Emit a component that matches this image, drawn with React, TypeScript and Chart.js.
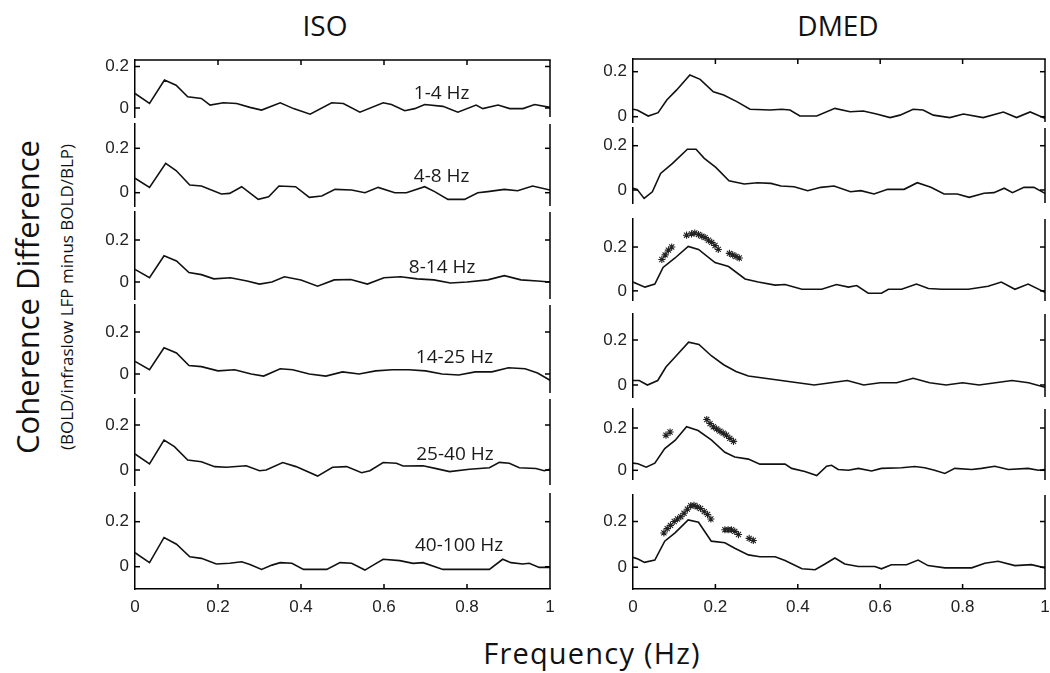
import React, { useEffect, useRef } from "react";
import { Chart, registerables } from "chart.js";

Chart.register(...registerables);

// ---------------- DATA ----------------
const xTickValues = [0, 0.2, 0.4, 0.6, 0.8, 1];
const yTickValues = [0, 0.2];
const columnTitles = ["ISO", "DMED"];
const bandLabels = ["1-4 Hz", "4-8 Hz", "8-14 Hz", "14-25 Hz", "25-40 Hz", "40-100 Hz"];
const bandLabelX = [0.739, 0.739, 0.74, 0.77, 0.771, 0.781];
const bandLabelY = [0.071, 0.072, 0.067, 0.076, 0.067, 0.096];

// ISO column
const isoFreq1 = [0, 0.035, 0.071, 0.099, 0.127, 0.16, 0.181, 0.213, 0.245, 0.277, 0.305, 0.35, 0.382, 0.422, 0.474, 0.502, 0.542, 0.598, 0.618, 0.65, 0.674, 0.698, 0.742, 0.778, 0.822, 0.838, 0.875, 0.903, 0.935, 0.963, 1];
const isoCoh1 = [0.07, 0.022, 0.135, 0.11, 0.054, 0.046, 0.014, 0.025, 0.022, 0.003, -0.01, 0.025, -0.003, -0.03, 0.025, 0.022, -0.02, 0.025, 0.017, -0.013, -0.003, 0.017, 0.008, -0.02, 0.014, -0.003, 0.014, -0.003, -0.003, 0.017, 0.003];

const isoFreq2 = [0, 0.035, 0.074, 0.099, 0.132, 0.16, 0.208, 0.228, 0.257, 0.297, 0.322, 0.347, 0.387, 0.42, 0.45, 0.482, 0.522, 0.554, 0.586, 0.626, 0.654, 0.698, 0.722, 0.754, 0.794, 0.826, 0.85, 0.89, 0.922, 0.958, 1];
const isoCoh2 = [0.065, 0.024, 0.132, 0.1, 0.035, 0.03, -0.006, -0.003, 0.027, -0.03, -0.018, 0.03, 0.027, -0.021, -0.015, 0.015, 0.012, 0, 0.024, 0, 0, 0.027, 0.005, -0.03, -0.03, 0, 0.005, 0.015, 0.009, 0.03, 0.012];

const isoFreq3 = [0, 0.035, 0.07, 0.1, 0.13, 0.16, 0.19, 0.23, 0.27, 0.3, 0.33, 0.36, 0.4, 0.44, 0.48, 0.52, 0.56, 0.6, 0.64, 0.68, 0.72, 0.76, 0.8, 0.85, 0.89, 0.93, 0.97, 1];
const isoCoh3 = [0.06, 0.02, 0.125, 0.1, 0.045, 0.035, 0.015, 0.02, 0.005, -0.01, 0.0, 0.025, 0.01, -0.02, 0.01, 0.012, -0.01, 0.02, 0.025, 0.015, 0.01, -0.005, 0.0, 0.01, 0.03, 0.01, 0.005, 0.0];

const isoFreq4 = [0, 0.035, 0.07, 0.1, 0.13, 0.16, 0.2, 0.24, 0.28, 0.31, 0.35, 0.38, 0.42, 0.46, 0.5, 0.54, 0.58, 0.62, 0.66, 0.7, 0.74, 0.78, 0.82, 0.86, 0.9, 0.94, 0.97, 1];
const isoCoh4 = [0.06, 0.02, 0.125, 0.1, 0.04, 0.035, 0.015, 0.02, 0.0, -0.01, 0.025, 0.02, 0.0, -0.01, 0.01, 0.0, 0.015, 0.02, 0.02, 0.015, 0.0, -0.005, 0.01, 0.01, 0.03, 0.025, 0.005, -0.03];

const isoFreq5 = [0, 0.035, 0.07, 0.095, 0.127, 0.16, 0.192, 0.22, 0.268, 0.3, 0.316, 0.356, 0.388, 0.44, 0.476, 0.51, 0.546, 0.566, 0.598, 0.63, 0.646, 0.694, 0.726, 0.758, 0.806, 0.854, 0.878, 0.902, 0.926, 0.966, 0.986, 1];
const isoCoh5 = [0.071, 0.027, 0.133, 0.104, 0.044, 0.037, 0.015, 0.012, 0.019, -0.003, 0, 0.033, 0.015, -0.027, 0.012, 0.015, -0.012, -0.003, 0.033, 0.03, 0.018, 0.019, 0.006, -0.007, 0.003, 0.01, 0.034, 0.03, 0.01, 0.007, -0.003, 0.003];

const isoFreq6 = [0, 0.035, 0.07, 0.1, 0.132, 0.16, 0.196, 0.228, 0.257, 0.277, 0.305, 0.33, 0.35, 0.378, 0.406, 0.462, 0.494, 0.522, 0.554, 0.574, 0.598, 0.638, 0.67, 0.694, 0.742, 0.854, 0.886, 0.906, 0.934, 0.95, 0.974, 1];
const isoCoh6 = [0.062, 0.018, 0.13, 0.1, 0.044, 0.037, 0.012, 0.015, 0.022, 0.01, -0.012, 0.007, 0.018, 0.015, -0.012, -0.012, 0.018, 0.015, -0.015, 0.007, 0.033, 0.027, 0.015, 0.018, -0.012, -0.012, 0.033, 0.018, 0.012, 0.015, -0.003, -0.003];

// DMED column
const dmedFreq1 = [0, 0.01, 0.037, 0.061, 0.082, 0.106, 0.138, 0.163, 0.195, 0.22, 0.252, 0.284, 0.333, 0.361, 0.381, 0.405, 0.446, 0.49, 0.527, 0.559, 0.591, 0.624, 0.648, 0.68, 0.704, 0.729, 0.769, 0.802, 0.85, 0.899, 0.931, 0.964, 1];
const dmedCoh1 = [0.033, 0.03, 0.003, 0.018, 0.074, 0.119, 0.185, 0.166, 0.111, 0.096, 0.067, 0.033, 0.03, 0.033, 0.03, 0.003, 0.003, 0.037, 0.022, 0.025, 0.012, -0.004, 0.007, 0.033, 0.03, 0.007, -0.004, 0.012, -0.004, 0.021, -0.004, 0.021, -0.007];

const dmedFreq2 = [0, 0.01, 0.027, 0.047, 0.067, 0.096, 0.132, 0.153, 0.173, 0.201, 0.233, 0.27, 0.302, 0.335, 0.359, 0.391, 0.424, 0.456, 0.488, 0.528, 0.553, 0.585, 0.618, 0.658, 0.69, 0.723, 0.755, 0.787, 0.816, 0.852, 0.876, 0.901, 0.921, 0.949, 0.973, 1];
const dmedCoh2 = [0.008, 0.003, -0.038, -0.008, 0.075, 0.12, 0.184, 0.184, 0.143, 0.102, 0.042, 0.027, 0.033, 0.03, 0.018, 0.015, -0.003, 0.012, 0.018, -0.008, -0.003, -0.018, 0.003, 0.003, 0.033, 0.012, -0.018, -0.018, -0.033, -0.015, -0.012, 0.008, -0.012, 0.012, 0.012, -0.015];

const dmedFreq3 = [0, 0.029, 0.053, 0.073, 0.102, 0.134, 0.159, 0.199, 0.232, 0.272, 0.304, 0.345, 0.369, 0.41, 0.458, 0.494, 0.523, 0.543, 0.571, 0.603, 0.62, 0.652, 0.688, 0.717, 0.749, 0.814, 0.862, 0.894, 0.927, 0.959, 1];
const dmedCoh3 = [0.04, 0.017, 0.031, 0.107, 0.15, 0.203, 0.189, 0.129, 0.111, 0.054, 0.04, 0.026, 0.029, 0.007, 0.007, 0.029, 0.017, 0.024, -0.011, -0.011, 0.007, 0.007, 0.031, 0.011, 0.007, 0.007, 0.021, 0.04, 0.007, 0.031, -0.007];
const dmedStarFreq3 = [0.07, 0.078, 0.086, 0.094, 0.13, 0.142, 0.15, 0.159, 0.167, 0.175, 0.183, 0.191, 0.199, 0.207, 0.234, 0.242, 0.25, 0.258];
const dmedStarCoh3 = [0.143, 0.164, 0.186, 0.2, 0.254, 0.26, 0.264, 0.257, 0.25, 0.243, 0.231, 0.221, 0.207, 0.189, 0.171, 0.164, 0.157, 0.15];

const dmedFreq4 = [0, 0.015, 0.035, 0.06, 0.08, 0.105, 0.135, 0.16, 0.19, 0.22, 0.25, 0.28, 0.32, 0.36, 0.4, 0.44, 0.48, 0.52, 0.56, 0.6, 0.64, 0.68, 0.72, 0.76, 0.8, 0.84, 0.88, 0.92, 0.96, 1];
const dmedCoh4 = [0.02, 0.02, 0.0, 0.02, 0.08, 0.13, 0.19, 0.18, 0.13, 0.09, 0.06, 0.04, 0.03, 0.02, 0.01, 0.0, 0.01, 0.02, 0.0, 0.01, 0.01, 0.03, 0.01, 0.0, 0.01, 0.0, 0.01, 0.02, 0.01, -0.01];

const dmedFreq5 = [0, 0.012, 0.032, 0.053, 0.077, 0.102, 0.13, 0.158, 0.19, 0.223, 0.247, 0.28, 0.308, 0.369, 0.385, 0.417, 0.446, 0.47, 0.482, 0.498, 0.523, 0.547, 0.579, 0.603, 0.652, 0.684, 0.708, 0.732, 0.757, 0.781, 0.822, 0.846, 0.878, 0.911, 0.959, 0.984, 1];
const dmedCoh5 = [0.034, 0.031, 0.015, 0.034, 0.103, 0.141, 0.206, 0.188, 0.144, 0.085, 0.063, 0.053, 0.029, 0.029, 0.009, -0.006, -0.025, 0.019, 0.024, 0.004, 0, 0.009, -0.003, 0.009, 0.012, 0.018, 0.012, 0, -0.015, 0.009, 0.004, 0.009, 0.019, 0.004, 0.009, 0, 0.004];
const dmedStarFreq5 = [0.08, 0.09, 0.179, 0.187, 0.195, 0.203, 0.211, 0.219, 0.227, 0.235, 0.244];
const dmedStarCoh5 = [0.166, 0.181, 0.24, 0.221, 0.206, 0.196, 0.185, 0.176, 0.166, 0.151, 0.137];

const dmedFreq6 = [0, 0.012, 0.028, 0.053, 0.077, 0.102, 0.134, 0.159, 0.19, 0.223, 0.247, 0.28, 0.308, 0.345, 0.369, 0.41, 0.442, 0.466, 0.49, 0.514, 0.547, 0.587, 0.603, 0.627, 0.664, 0.692, 0.716, 0.757, 0.822, 0.854, 0.886, 0.927, 0.967, 1];
const dmedCoh6 = [0.043, 0.036, 0.021, 0.031, 0.114, 0.15, 0.207, 0.197, 0.114, 0.107, 0.083, 0.054, 0.046, 0.046, 0.029, -0.007, -0.011, 0.014, 0.04, 0.014, 0.003, 0.003, -0.007, 0.011, 0.011, 0.031, 0.007, -0.003, -0.003, 0.017, 0.026, 0.007, 0.011, -0.003];
const dmedStarFreq6 = [0.075, 0.083, 0.091, 0.1, 0.108, 0.116, 0.124, 0.132, 0.14, 0.148, 0.156, 0.164, 0.173, 0.181, 0.189, 0.223, 0.231, 0.239, 0.247, 0.256, 0.282, 0.292];
const dmedStarCoh6 = [0.15, 0.169, 0.183, 0.2, 0.211, 0.221, 0.236, 0.254, 0.269, 0.271, 0.264, 0.257, 0.243, 0.231, 0.211, 0.164, 0.164, 0.164, 0.157, 0.143, 0.126, 0.117];

const isoSeries = [
  [isoFreq1, isoCoh1], [isoFreq2, isoCoh2], [isoFreq3, isoCoh3],
  [isoFreq4, isoCoh4], [isoFreq5, isoCoh5], [isoFreq6, isoCoh6],
];
const dmedSeries = [
  [dmedFreq1, dmedCoh1], [dmedFreq2, dmedCoh2], [dmedFreq3, dmedCoh3],
  [dmedFreq4, dmedCoh4], [dmedFreq5, dmedCoh5], [dmedFreq6, dmedCoh6],
];
const dmedStars: (number[][] | null)[] = [
  null, null, [dmedStarFreq3, dmedStarCoh3], null, [dmedStarFreq5, dmedStarCoh5], [dmedStarFreq6, dmedStarCoh6],
];

// ---------------- LAYOUT ----------------
// per panel: [plotTop, plotBottom, pixelOfZero, pixelOf0.2]
const isoRowsPx = [
  [60, 117, 108, 66.5],
  [124, 206, 192.7, 148.3],
  [212, 299, 282, 240],
  [305, 393, 374, 332],
  [399, 485, 470, 425],
  [493, 589, 566.7, 521.7],
];
const dmedRowsPx = [
  [59, 122, 116.7, 71.7],
  [128, 203, 190, 145.7],
  [217, 304, 293.3, 246.7],
  [314, 397, 385, 340],
  [407, 483, 472.7, 427.3],
  [493, 589, 566.7, 520],
];
const COLS = [
  { x0: 135, x1: 550 },
  { x0: 633, x1: 1045 },
];
const LM = 44; // y axis label area width
const RM = 7;
const TM = 3;
const BP = 2;
const XH = 32;

const decoPlugin = {
  id: "deco",
  afterDraw(chart: any, _args: any, opts: any) {
    const { ctx, chartArea: a } = chart;
    const x = chart.scales.x;
    const y = chart.scales.y;
    ctx.save();
    ctx.strokeStyle = "#000";
    ctx.lineWidth = 1.5;
    const seg = (x1: number, y1: number, x2: number, y2: number) => {
      ctx.beginPath();
      ctx.moveTo(x1, y1);
      ctx.lineTo(x2, y2);
      ctx.stroke();
    };
    seg(a.right, a.top, a.right, a.bottom);
    if (opts.isTop) seg(a.left - 0.75, a.top, a.right + 0.75, a.top);
    for (const v of yTickValues) {
      const py = y.getPixelForValue(v);
      seg(a.left, py, a.left + 5, py);
      seg(a.right - 5, py, a.right, py);
    }
    for (const v of xTickValues) {
      if (v === 0 || v === 1) continue;
      const px = x.getPixelForValue(v);
      if (opts.isTop) seg(px, a.top, px, a.top + 5);
      if (opts.isBottom) seg(px, a.bottom, px, a.bottom - 5);
    }
    if (opts.label) {
      ctx.font = '19px "Open Sans"';
      ctx.fillStyle = "#1a1a1a";
      ctx.textAlign = "center";
      ctx.textBaseline = "middle";
      ctx.fillText(opts.label, x.getPixelForValue(opts.lx), y.getPixelForValue(opts.ly));
    }
    ctx.restore();
  },
};

type PanelProps = {
  col: number;
  row: number;
  xs: number[];
  ys: number[];
  stars: number[][] | null;
  rowPx: number[];
  label: string | null;
};

function Panel({ col, row, xs, ys, stars, rowPx, label }: PanelProps) {
  const ref = useRef<HTMLCanvasElement>(null);
  const isTop = row === 0;
  const isBottom = row === 5;
  const { x0, x1 } = COLS[col];
  const [top, bottom, p0, p2] = rowPx;
  const unit = (p0 - p2) / 0.2;
  const yMax = (p0 - top) / unit;
  const yMin = -(bottom - p0) / unit;
  const plotW = x1 - x0;
  const plotH = bottom - top;
  const width = LM + plotW + RM;
  const height = Math.round(TM + plotH + (isBottom ? XH : BP));
  const left = x0 - LM;
  const canvasTop = Math.round(top - TM);

  useEffect(() => {
    if (!ref.current) return;
    const datasets: any[] = [
      {
        type: "line",
        data: xs.map((v, i) => ({ x: v, y: ys[i] })),
        borderColor: "#111",
        borderWidth: 1.6,
        pointRadius: 0,
        tension: 0,
        fill: false,
      },
    ];
    if (stars) {
      datasets.push({
        type: "scatter",
        data: stars[0].map((v, i) => ({ x: v, y: stars[1][i] })),
        pointStyle: "star",
        pointRadius: 3.6,
        borderColor: "#222",
        backgroundColor: "#222",
        borderWidth: 1.1,
        showLine: false,
      });
    }
    const tickFont = { family: '"Liberation Sans", Arial, sans-serif', size: 17 };
    const chart = new Chart(ref.current, {
      type: "line",
      data: { datasets },
      plugins: [decoPlugin as any],
      options: {
        responsive: false,
        animation: false,
        devicePixelRatio: 1,
        layout: { padding: { left: 0, right: RM, top: TM, bottom: isBottom ? 0 : BP } },
        plugins: {
          legend: { display: false },
          tooltip: { enabled: false },
          deco: { isTop, isBottom, label, lx: bandLabelX[row], ly: bandLabelY[row] },
        } as any,
        scales: {
          x: {
            type: "linear",
            min: 0,
            max: 1,
            display: isBottom,
            afterBuildTicks: (s: any) => {
              s.ticks = xTickValues.map((v) => ({ value: v }));
            },
            afterFit: (s: any) => {
              s.height = isBottom ? XH : 0;
              s.paddingLeft = 0;
              s.paddingRight = 0;
            },
            grid: { display: false, drawTicks: false },
            border: { display: true, color: "#000", width: 1.5 },
            ticks: {
              font: tickFont,
              color: "#222",
              padding: 8,
              maxRotation: 0,
              autoSkip: false,
              callback: (v: any) => String(v),
            },
          },
          y: {
            type: "linear",
            min: yMin,
            max: yMax,
            afterBuildTicks: (s: any) => {
              s.ticks = yTickValues.map((v) => ({ value: v }));
            },
            afterFit: (s: any) => {
              s.width = LM;
              s.paddingTop = 0;
              s.paddingBottom = 0;
            },
            grid: { display: false, drawTicks: false },
            border: { display: true, color: "#000", width: 1.5 },
            ticks: {
              font: tickFont,
              color: "#222",
              padding: 6,
              autoSkip: false,
              callback: (v: any) => String(v),
            },
          },
        },
      } as any,
    });
    return () => chart.destroy();
  }, []);

  return (
    <canvas
      ref={ref}
      width={width}
      height={height}
      style={{ position: "absolute", left, top: canvasTop, width, height }}
    />
  );
}

const textFont = '"Open Sans", "Noto Sans", sans-serif';

export default function App() {
  return (
    <div
      style={{
        position: "absolute",
        left: 0,
        top: 0,
        width: 1050,
        height: 673,
        background: "#fff",
        overflow: "hidden",
        fontFamily: textFont,
        color: "#111",
      }}
    >
      <div style={{ position: "absolute", left: 325, top: 25, transform: "translate(-50%,-50%)", fontSize: 28, whiteSpace: "nowrap" }}>
        {columnTitles[0]}
      </div>
      <div style={{ position: "absolute", left: 838, top: 25, transform: "translate(-50%,-50%)", fontSize: 28, whiteSpace: "nowrap" }}>
        {columnTitles[1]}
      </div>
      <div style={{ position: "absolute", left: 27, top: 297, transform: "translate(-50%,-50%) rotate(-90deg)", fontSize: 31, whiteSpace: "nowrap" }}>
        Coherence Difference
      </div>
      <div style={{ position: "absolute", left: 66, top: 297, transform: "translate(-50%,-50%) rotate(-90deg)", fontSize: 17, whiteSpace: "nowrap" }}>
        (BOLD/infraslow LFP minus BOLD/BLP)
      </div>
      <div style={{ position: "absolute", left: 592, top: 652, transform: "translate(-50%,-50%)", fontSize: 29, letterSpacing: 1.2, whiteSpace: "nowrap" }}>
        Frequency (Hz)
      </div>
      {isoSeries.map((s, i) => (
        <Panel key={"iso" + i} col={0} row={i} xs={s[0]} ys={s[1]} stars={null} rowPx={isoRowsPx[i]} label={bandLabels[i]} />
      ))}
      {dmedSeries.map((s, i) => (
        <Panel key={"dmed" + i} col={1} row={i} xs={s[0]} ys={s[1]} stars={dmedStars[i]} rowPx={dmedRowsPx[i]} label={null} />
      ))}
    </div>
  );
}
